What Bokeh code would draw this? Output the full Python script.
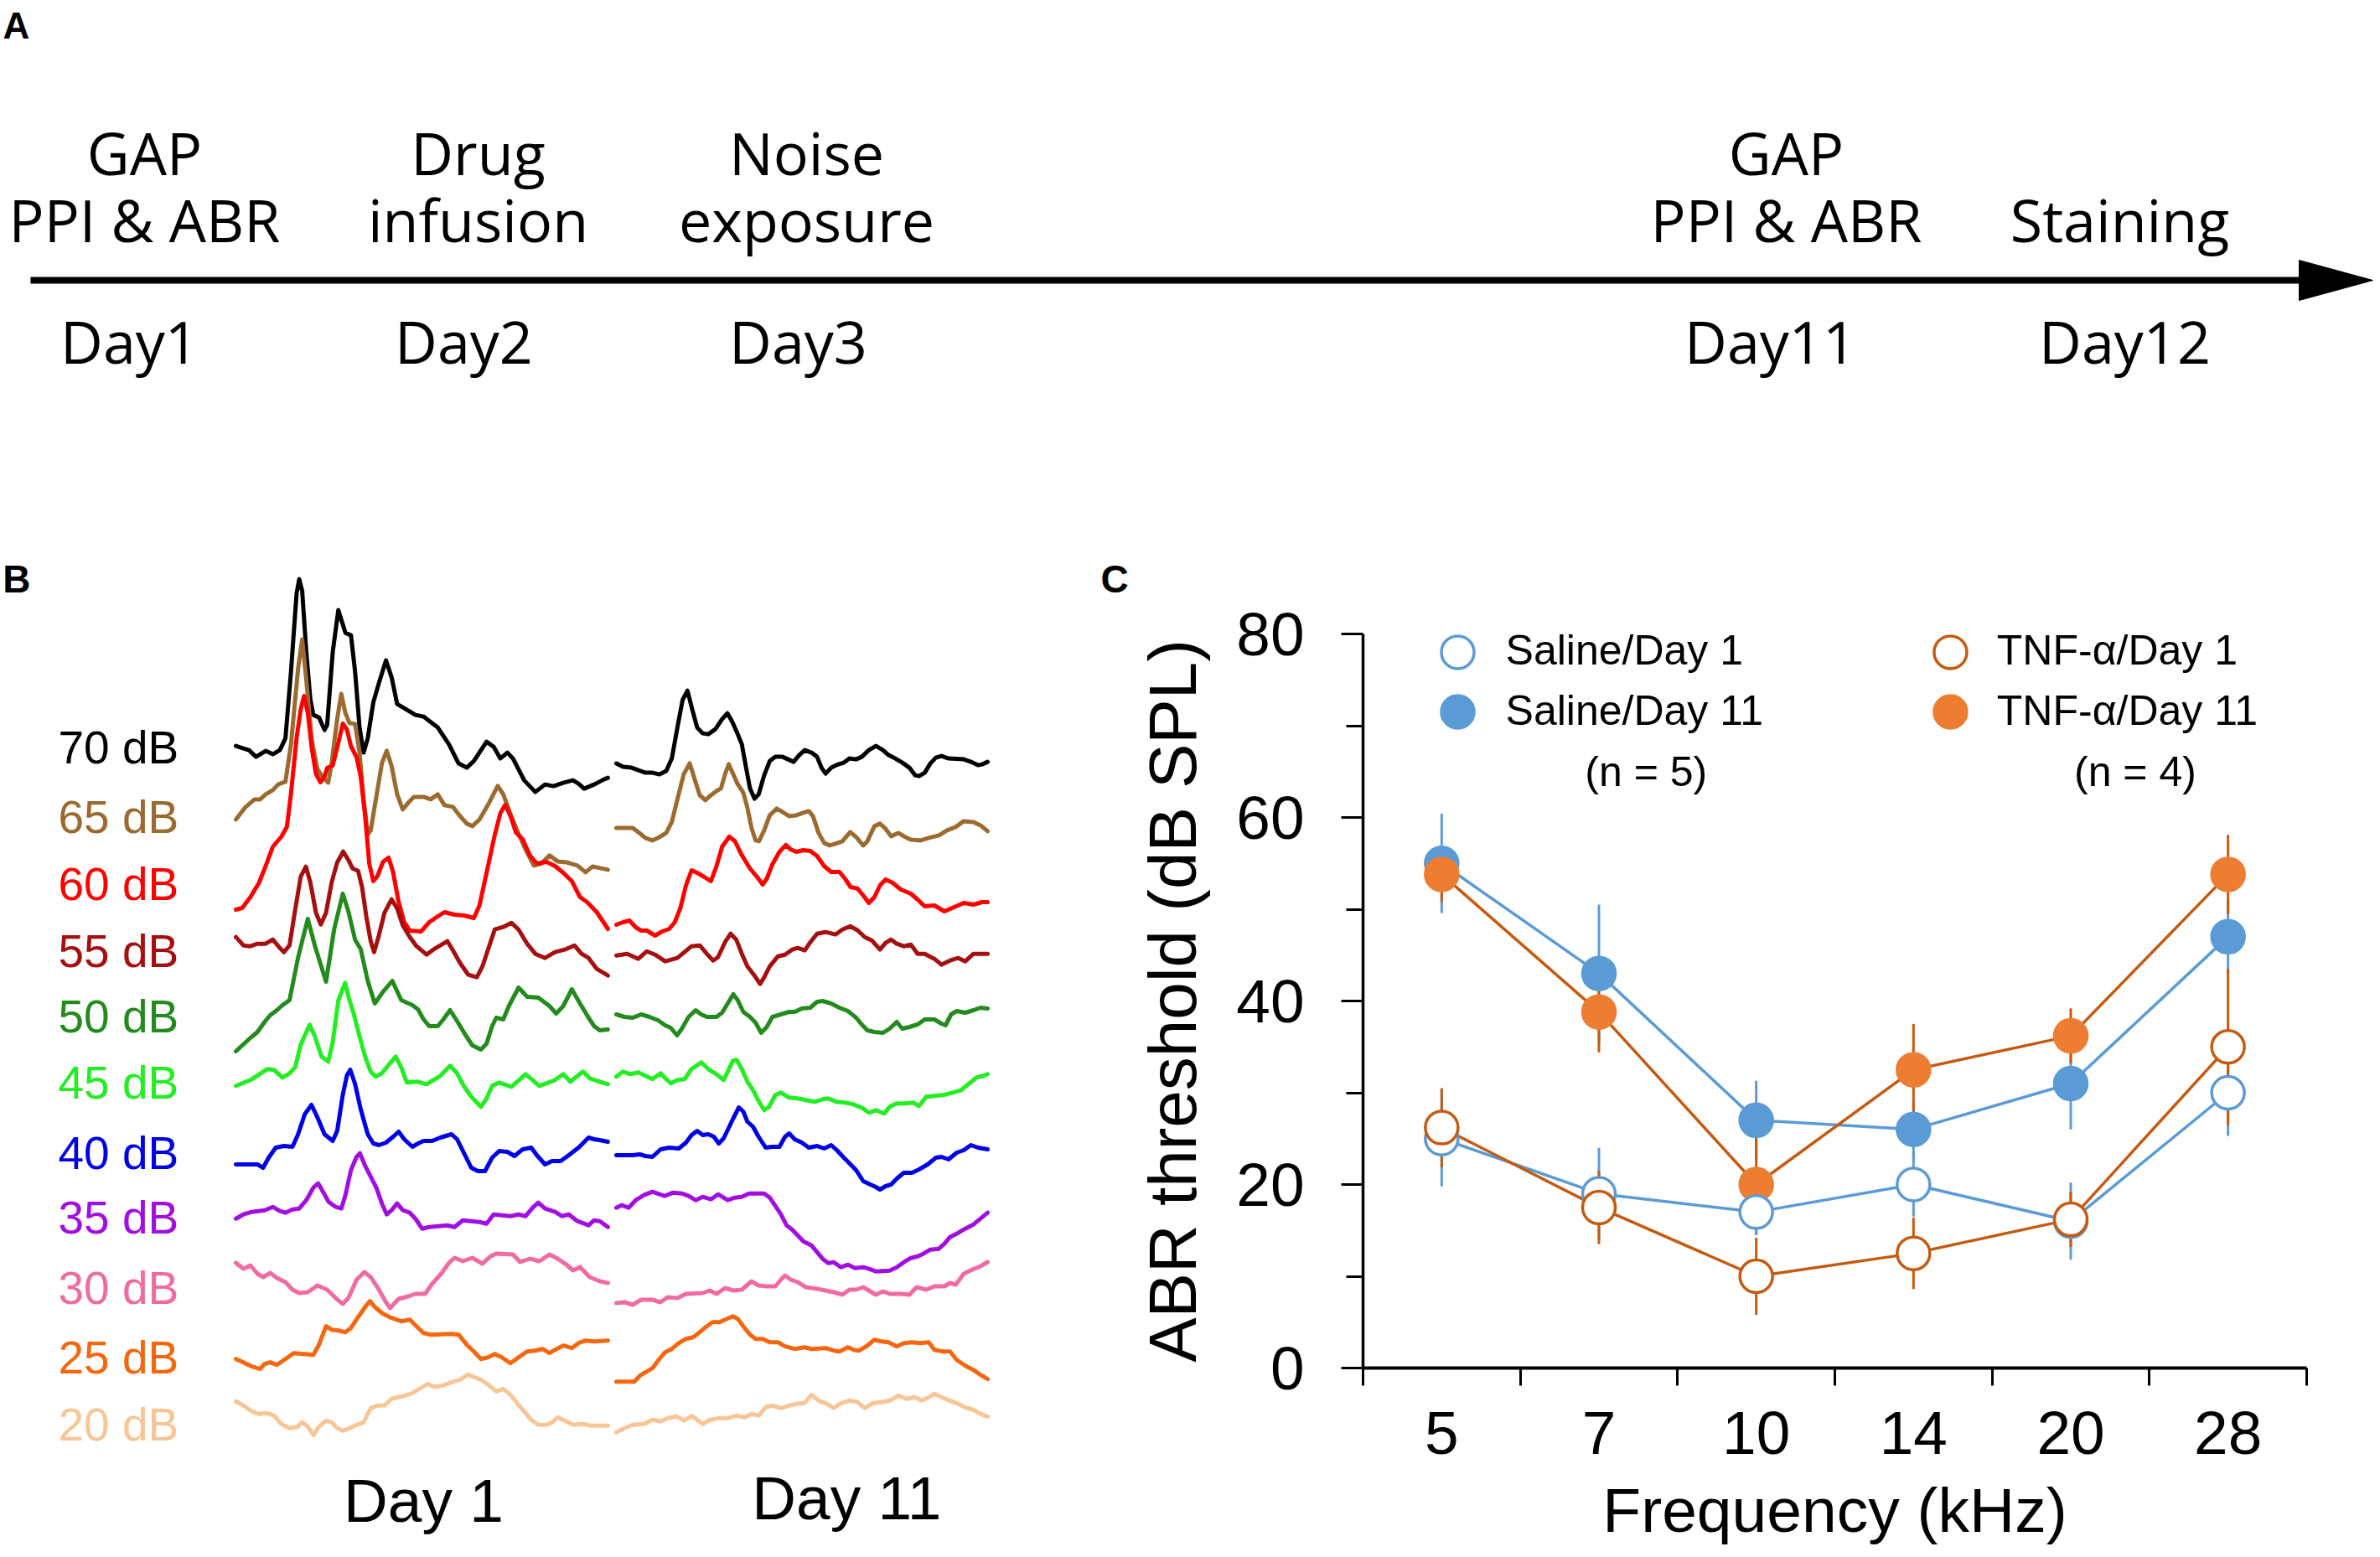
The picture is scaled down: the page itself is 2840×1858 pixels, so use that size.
from bokeh.plotting import figure
from bokeh.layouts import column, row
from bokeh.models import Range1d, FixedTicker
from bokeh.core.properties import value
from bokeh.embed import file_html
from bokeh.resources import INLINE

# ---------------- Panel A : experimental timeline ----------------
EVENT_LINE1 = ["GAP", "Drug", "Noise", "GAP", ""]
EVENT_LINE2 = ["PPI & ABR", "infusion", "exposure", "PPI & ABR", "Staining"]
EVENT_DAYS = ["Day1", "Day2", "Day3", "Day11", "Day12"]
EVENT_X = [172, 570, 962, 2131, 2529]      # layout positions of the event columns
DAY_X = [154, 553, 952, 2112, 2535]

# ---------------- Panel B : ABR waveforms (t in ms, amplitude in uV) ----------------
LEVELS = ["70 dB", "65 dB", "60 dB", "55 dB", "50 dB", "45 dB",
          "40 dB", "35 dB", "30 dB", "25 dB", "20 dB"]
LEVEL_COLORS = ["#000000", "#9B6A2F", "#FF0000", "#A50F0F", "#238B1E", "#22EE22",
                "#0000E6", "#A00FE0", "#F06BA3", "#F5670F", "#F8C597"]
STACK_POS = [0.0, -0.83, -1.63, -2.43, -3.21, -4.00, -4.84, -5.61, -6.45, -7.28, -8.08]
TRACE_BASE = [-0.076, -0.934, -1.76, -2.587, -3.21, -4.033, -4.90, -5.697, -6.565, -7.422, -8.248]
DAY11_START_MS = 10.215

D1_70 = [(0.0,0.09),(0.20,0.06),(0.35,0.04),(0.54,-0.04),(0.80,0.03),(0.99,-0.01),(1.18,0.04),(1.33,0.18),
         (1.48,0.98),(1.63,1.91),(1.70,2.08),(1.78,1.94),(1.89,1.21),(2.00,0.64),(2.08,0.46),(2.23,0.43),
         (2.38,0.28),(2.45,0.34),(2.60,1.21),(2.75,1.71),(2.87,1.54),(2.94,1.44),(3.09,1.41),(3.20,0.98),
         (3.32,0.31),(3.43,0.01),(3.54,0.18),(3.69,0.61),(3.84,0.84),(4.03,1.11),(4.18,0.91),(4.33,0.59),
         (4.52,0.54),(4.82,0.46),(5.04,0.44),(5.42,0.31),(5.72,0.11),(5.98,-0.12),(6.20,-0.17),(6.39,-0.09),
         (6.73,0.14),(6.92,0.08),(7.10,-0.06),(7.29,0.01),(7.44,-0.06),(7.74,-0.32),(8.04,-0.46),(8.30,-0.37),
         (8.53,-0.39),(8.79,-0.35),(9.05,-0.32),(9.20,-0.36),(9.35,-0.42),(9.62,-0.37),(9.88,-0.31),(9.99,-0.29)]
D1_65 = [(0.0,0.07),(0.24,0.21),(0.50,0.31),(0.65,0.31),(0.80,0.37),(0.99,0.42),(1.14,0.49),(1.33,0.52),
         (1.48,0.97),(1.67,1.87),(1.78,2.22),(1.89,1.74),(2.04,1.01),(2.19,0.67),(2.34,0.57),(2.48,0.51),
         (2.57,0.74),(2.72,1.27),(2.83,1.57),(2.94,1.34),(3.05,1.22),(3.20,1.21),(3.32,0.87),(3.43,0.31),
         (3.54,-0.11),(3.62,-0.06),(3.77,0.34),(3.92,0.74),(4.05,0.89),(4.18,0.71),(4.33,0.37),(4.48,0.19),
         (4.63,0.27),(4.78,0.34),(5.04,0.34),(5.23,0.31),(5.42,0.37),(5.60,0.24),(5.83,0.22),(6.02,0.11),
         (6.20,0.02),(6.35,-0.01),(6.54,0.07),(6.80,0.27),(7.03,0.47),(7.18,0.37),(7.37,0.14),(7.55,-0.06),
         (7.78,-0.29),(8.00,-0.48),(8.19,-0.46),(8.42,-0.36),(8.64,-0.43),(8.87,-0.44),(9.17,-0.48),
         (9.39,-0.56),(9.58,-0.49),(9.77,-0.51),(9.99,-0.53)]
D1_60 = [(0.0,-0.18),(0.17,-0.16),(0.39,-0.03),(0.62,0.14),(0.80,0.34),(0.99,0.57),(1.22,0.69),(1.37,0.81),
         (1.48,1.21),(1.63,1.87),(1.74,2.21),(1.83,2.37),(1.93,2.17),(2.04,1.74),(2.15,1.44),(2.27,1.34),
         (2.38,1.41),(2.45,1.51),(2.60,1.54),(2.75,1.81),(2.87,2.04),(2.98,1.97),(3.09,1.77),(3.24,1.64),
         (3.35,1.41),(3.47,0.94),(3.58,0.37),(3.69,0.16),(3.80,0.22),(3.95,0.39),(4.10,0.44),(4.22,0.27),
         (4.37,-0.09),(4.52,-0.33),(4.67,-0.43),(4.97,-0.44),(5.19,-0.33),(5.42,-0.26),(5.60,-0.21),
         (5.87,-0.24),(6.13,-0.25),(6.39,-0.28),(6.54,-0.13),(6.77,0.34),(6.95,0.71),(7.10,0.97),(7.23,1.07),
         (7.37,0.94),(7.52,0.74),(7.70,0.66),(7.89,0.47),(8.08,0.37),(8.34,0.39),(8.57,0.34),(8.79,0.26),
         (9.02,0.16),(9.24,-0.03),(9.43,-0.09),(9.69,-0.21),(9.84,-0.31),(9.99,-0.41)]
D1_55 = [(0.0,0.32),(0.20,0.22),(0.39,0.21),(0.58,0.24),(0.80,0.24),(0.99,0.29),(1.14,0.21),(1.29,0.14),
         (1.44,0.22),(1.59,0.64),(1.74,1.04),(1.88,1.16),(2.00,0.97),(2.15,0.61),(2.28,0.47),(2.42,0.61),
         (2.57,0.97),(2.72,1.21),(2.88,1.34),(3.02,1.24),(3.13,1.14),(3.28,1.11),(3.39,0.91),(3.50,0.57),
         (3.62,0.27),(3.71,0.14),(3.84,0.34),(3.99,0.61),(4.18,0.77),(4.33,0.66),(4.48,0.46),(4.67,0.32),
         (4.85,0.21),(5.12,0.11),(5.30,0.17),(5.49,0.22),(5.68,0.27),(5.83,0.16),(6.02,0.01),(6.24,-0.13),
         (6.47,-0.16),(6.62,-0.03),(6.77,0.17),(6.95,0.41),(7.18,0.44),(7.40,0.49),(7.59,0.41),(7.82,0.24),
         (8.04,0.12),(8.30,0.07),(8.57,0.14),(8.83,0.17),(9.09,0.22),(9.28,0.12),(9.47,0.07),(9.69,-0.06),
         (9.99,-0.14)]
D1_50 = [(0.0,-0.42),(0.17,-0.35),(0.39,-0.26),(0.58,-0.19),(0.77,-0.07),(0.92,0.01),(1.10,0.07),(1.25,0.13),
         (1.44,0.19),(1.67,0.70),(1.93,1.16),(2.12,0.84),(2.42,0.41),(2.64,1.04),(2.87,1.46),(3.02,1.25),
         (3.20,0.91),(3.35,0.80),(3.54,0.42),(3.73,0.15),(3.95,0.29),(4.20,0.42),(4.44,0.19),(4.74,0.13),
         (4.89,0.08),(5.04,-0.04),(5.19,-0.12),(5.42,-0.12),(5.57,-0.04),(5.75,0.07),(5.94,-0.06),(6.17,-0.23),
         (6.35,-0.35),(6.58,-0.40),(6.73,-0.33),(6.88,-0.12),(6.99,-0.02),(7.18,-0.04),(7.33,0.12),(7.59,0.34),
         (7.82,0.23),(8.12,0.22),(8.42,0.12),(8.60,0.03),(8.79,0.12),(9.02,0.32),(9.24,0.15),(9.47,-0.02),
         (9.62,-0.12),(9.77,-0.17),(9.99,-0.16)]
D1_45 = [(0.0,-0.01),(0.39,0.06),(0.84,0.19),(1.03,0.18),(1.25,0.09),(1.44,0.14),(1.59,0.21),(1.74,0.48),
         (1.98,0.72),(2.12,0.58),(2.30,0.34),(2.48,0.28),(2.60,0.51),(2.75,1.01),(2.93,1.22),(3.05,1.01),
         (3.17,0.84),(3.32,0.58),(3.47,0.34),(3.62,0.16),(3.75,0.10),(3.92,0.14),(4.10,0.24),(4.29,0.34),
         (4.44,0.21),(4.59,0.03),(4.89,0.04),(5.12,0.01),(5.49,0.11),(5.75,0.23),(5.94,0.14),(6.13,-0.02),
         (6.32,-0.14),(6.58,-0.26),(6.73,-0.16),(6.88,-0.01),(7.07,0.03),(7.40,-0.02),(7.78,0.13),(8.15,-0.01),
         (8.57,0.06),(8.79,0.13),(8.98,0.04),(9.32,0.16),(9.50,0.08),(9.77,0.04),(9.99,0.01)]
D1_40 = [(0.0,-0.08),(0.58,-0.08),(0.73,-0.12),(0.88,0.0),(1.07,0.12),(1.29,0.14),(1.52,0.13),(1.67,0.28),
         (1.85,0.52),(2.03,0.63),(2.19,0.48),(2.38,0.28),(2.60,0.20),(2.72,0.32),(2.87,0.75),(2.98,0.98),
         (3.07,1.05),(3.20,0.88),(3.35,0.58),(3.54,0.28),(3.69,0.17),(3.84,0.15),(4.03,0.18),(4.22,0.25),
         (4.37,0.31),(4.52,0.22),(4.74,0.13),(4.89,0.17),(5.04,0.20),(5.27,0.20),(5.49,0.24),(5.79,0.28),
         (5.94,0.22),(6.13,0.05),(6.32,-0.12),(6.50,-0.16),(6.69,-0.16),(6.88,0.0),(7.07,0.08),(7.29,0.07),
         (7.48,0.02),(7.70,0.10),(7.93,0.12),(8.08,0.03),(8.30,-0.08),(8.49,-0.04),(8.72,-0.04),(8.94,0.03),
         (9.20,0.12),(9.47,0.24),(9.62,0.22),(9.77,0.21),(9.99,0.19)]
D1_35 = [(0.0,0.07),(0.20,0.12),(0.43,0.15),(0.77,0.17),(0.99,0.21),(1.18,0.16),(1.33,0.14),(1.52,0.18),
         (1.70,0.19),(1.89,0.29),(2.08,0.44),(2.21,0.49),(2.34,0.39),(2.49,0.27),(2.68,0.21),(2.83,0.19),
         (2.94,0.35),(3.09,0.65),(3.23,0.80),(3.33,0.85),(3.47,0.70),(3.62,0.57),(3.77,0.44),(3.92,0.25),
         (4.05,0.12),(4.18,0.17),(4.33,0.25),(4.48,0.17),(4.67,0.14),(4.82,0.07),(5.00,-0.05),(5.19,-0.03),
         (5.68,-0.01),(5.87,-0.03),(6.09,0.05),(6.54,0.03),(6.73,0.01),(6.92,0.12),(7.37,0.10),(7.59,0.12),
         (7.78,0.10),(7.97,0.20),(8.12,0.26),(8.30,0.19),(8.57,0.15),(8.75,0.10),(8.94,0.12),(9.17,0.04),
         (9.47,-0.01),(9.62,0.05),(9.77,0.04),(9.99,-0.03)]
D1_30 = [(0.0,0.41),(0.20,0.34),(0.39,0.38),(0.58,0.28),(0.73,0.24),(0.92,0.29),(1.10,0.23),(1.33,0.18),
         (1.52,0.09),(1.70,0.05),(1.93,0.06),(2.19,0.14),(2.45,0.09),(2.68,-0.01),(2.87,-0.08),(3.02,-0.01),
         (3.24,0.21),(3.45,0.30),(3.62,0.24),(3.84,0.09),(4.03,-0.06),(4.14,-0.13),(4.22,-0.09),(4.37,-0.02),
         (4.63,0.01),(4.82,0.04),(5.08,0.04),(5.27,0.16),(5.53,0.29),(5.72,0.41),(5.87,0.47),(6.09,0.43),
         (6.35,0.47),(6.62,0.40),(6.84,0.49),(6.99,0.52),(7.44,0.51),(7.63,0.42),(7.89,0.46),(8.15,0.43),
         (8.42,0.51),(8.64,0.46),(8.87,0.39),(9.05,0.32),(9.24,0.36),(9.50,0.24),(9.77,0.19),(9.99,0.17)]
D1_25 = [(0.0,0.12),(0.20,0.08),(0.43,0.03),(0.65,0.0),(0.77,0.06),(0.92,0.08),(1.10,0.05),(1.33,0.12),
         (1.55,0.19),(1.82,0.18),(2.08,0.17),(2.23,0.29),(2.42,0.51),(2.57,0.47),(2.75,0.46),(2.94,0.44),
         (3.09,0.49),(3.28,0.62),(3.47,0.74),(3.60,0.81),(3.73,0.74),(3.95,0.66),(4.18,0.61),(4.44,0.57),
         (4.67,0.59),(4.85,0.51),(5.04,0.43),(5.23,0.41),(5.79,0.42),(5.98,0.41),(6.20,0.29),(6.39,0.21),
         (6.58,0.12),(6.77,0.14),(6.95,0.18),(7.14,0.14),(7.37,0.07),(7.59,0.14),(7.82,0.21),(8.04,0.22),
         (8.23,0.24),(8.42,0.19),(8.57,0.23),(8.79,0.28),(9.02,0.25),(9.20,0.31),(9.39,0.34),(9.62,0.33),
         (9.99,0.34)]
D1_20 = [(0.0,0.44),(0.20,0.39),(0.43,0.32),(0.62,0.29),(0.84,0.30),(1.03,0.27),(1.22,0.17),(1.44,0.12),
         (1.63,0.13),(1.78,0.19),(1.93,0.14),(2.08,0.04),(2.23,0.14),(2.42,0.21),(2.57,0.19),(2.72,0.12),
         (2.87,0.09),(3.05,0.12),(3.24,0.16),(3.43,0.19),(3.62,0.36),(3.80,0.39),(3.99,0.39),(4.18,0.47),
         (4.37,0.49),(4.55,0.51),(4.74,0.54),(4.93,0.59),(5.15,0.65),(5.34,0.61),(5.57,0.63),(5.79,0.67),
         (6.02,0.70),(6.23,0.76),(6.39,0.73),(6.58,0.70),(6.77,0.64),(6.99,0.56),(7.18,0.59),(7.37,0.52),
         (7.55,0.42),(7.74,0.32),(7.93,0.22),(8.12,0.16),(8.34,0.16),(8.49,0.19),(8.64,0.25),(8.83,0.21),
         (9.05,0.16),(9.32,0.17),(9.54,0.15),(9.99,0.15)]

D11_70 = [(0.0,-0.12),(0.18,-0.16),(0.41,-0.17),(0.59,-0.20),(0.78,-0.23),(0.97,-0.23),(1.16,-0.25),(1.34,-0.21),
          (1.49,-0.06),(1.64,0.31),(1.78,0.64),(1.91,0.75),(2.03,0.54),(2.17,0.31),(2.32,0.24),(2.47,0.23),
          (2.66,0.29),(2.84,0.41),(2.98,0.48),(3.11,0.38),(3.26,0.23),(3.37,0.11),(3.48,-0.16),(3.59,-0.42),
          (3.71,-0.54),(3.82,-0.49),(3.97,-0.26),(4.12,-0.09),(4.27,-0.04),(4.46,-0.04),(4.61,-0.07),(4.76,-0.10),
          (4.91,-0.02),(5.06,0.04),(5.24,0.01),(5.39,-0.04),(5.51,-0.17),(5.62,-0.24),(5.77,-0.17),(5.96,-0.13),
          (6.11,-0.11),(6.26,-0.06),(6.44,-0.07),(6.59,-0.04),(6.78,0.04),(6.97,0.09),(7.16,0.04),(7.31,-0.02),
          (7.49,-0.06),(7.68,-0.11),(7.87,-0.17),(8.02,-0.26),(8.13,-0.27),(8.28,-0.23),(8.43,-0.12),(8.58,-0.05),
          (8.73,-0.03),(8.92,-0.06),(9.33,-0.07),(9.52,-0.10),(9.71,-0.14),(9.82,-0.13),(9.97,-0.10)]
D11_65 = [(0.0,-0.03),(0.22,-0.03),(0.44,-0.03),(0.59,-0.08),(0.78,-0.15),(0.97,-0.18),(1.16,-0.14),(1.34,-0.09),
          (1.49,0.04),(1.64,0.31),(1.81,0.61),(1.97,0.74),(2.09,0.57),(2.24,0.36),(2.39,0.30),(2.54,0.36),
          (2.69,0.41),(2.81,0.44),(2.92,0.61),(3.02,0.73),(3.14,0.61),(3.26,0.49),(3.41,0.39),(3.52,0.21),
          (3.63,-0.03),(3.74,-0.18),(3.83,-0.19),(3.97,-0.06),(4.12,0.12),(4.31,0.20),(4.46,0.16),(4.64,0.11),
          (4.83,0.12),(5.02,0.15),(5.17,0.17),(5.28,0.11),(5.43,-0.09),(5.58,-0.21),(5.73,-0.24),(5.88,-0.22),
          (6.07,-0.19),(6.28,-0.08),(6.44,-0.14),(6.63,-0.24),(6.74,-0.19),(6.93,-0.01),(7.08,0.02),(7.23,-0.04),
          (7.38,-0.13),(7.57,-0.09),(7.72,-0.13),(7.91,-0.17),(8.17,-0.18),(8.39,-0.15),(8.66,-0.12),(8.88,-0.06),
          (9.11,-0.02),(9.33,0.05),(9.59,0.04),(9.78,0.0),(9.97,-0.07)]
D11_60 = [(0.0,-0.36),(0.18,-0.33),(0.35,-0.31),(0.52,-0.39),(0.67,-0.43),(0.82,-0.43),(1.04,-0.49),(1.23,-0.44),
          (1.42,-0.41),(1.57,-0.33),(1.72,-0.16),(1.87,0.11),(2.02,0.29),(2.17,0.26),(2.36,0.21),(2.54,0.16),
          (2.69,0.34),(2.84,0.57),(3.03,0.69),(3.18,0.64),(3.37,0.47),(3.59,0.31),(3.78,0.21),(3.93,0.12),
          (4.04,0.19),(4.19,0.36),(4.38,0.51),(4.55,0.59),(4.68,0.54),(4.83,0.51),(5.02,0.53),(5.21,0.52),
          (5.39,0.46),(5.58,0.34),(5.77,0.27),(5.99,0.27),(6.14,0.19),(6.29,0.09),(6.48,0.07),(6.63,-0.01),
          (6.78,-0.10),(6.93,-0.03),(7.08,0.11),(7.23,0.18),(7.42,0.14),(7.64,0.06),(7.91,0.01),(8.09,-0.06),
          (8.28,-0.14),(8.54,-0.13),(8.81,-0.20),(9.07,-0.15),(9.33,-0.10),(9.59,-0.12),(9.82,-0.09),(9.97,-0.09)]
D11_55 = [(0.0,0.10),(0.29,0.12),(0.59,0.06),(0.82,0.15),(1.04,0.11),(1.31,0.03),(1.64,0.07),(1.83,0.14),
          (2.02,0.21),(2.24,0.22),(2.43,0.12),(2.60,0.04),(2.73,0.08),(2.92,0.26),(3.07,0.36),(3.22,0.29),
          (3.37,0.12),(3.52,-0.03),(3.71,-0.14),(3.86,-0.24),(3.97,-0.16),(4.12,-0.03),(4.34,0.09),(4.53,0.11),
          (4.72,0.17),(4.87,0.19),(5.06,0.16),(5.21,0.26),(5.39,0.36),(5.62,0.38),(5.88,0.35),(6.07,0.41),
          (6.28,0.45),(6.48,0.40),(6.67,0.32),(6.86,0.28),(7.08,0.17),(7.23,0.25),(7.38,0.29),(7.53,0.24),
          (7.72,0.21),(7.91,0.23),(8.09,0.12),(8.28,0.12),(8.54,0.06),(8.73,-0.01),(8.96,0.04),(9.18,0.07),
          (9.37,0.03),(9.59,0.12),(9.97,0.12)]
D11_50 = [(0.0,0.02),(0.22,-0.01),(0.44,-0.02),(0.67,0.02),(0.89,-0.01),(1.12,-0.05),(1.31,-0.11),(1.46,-0.14),
          (1.63,-0.23),(1.76,-0.15),(1.94,-0.01),(2.13,0.07),(2.28,0.02),(2.43,-0.01),(2.69,-0.01),(2.84,0.04),
          (2.99,0.15),(3.14,0.26),(3.26,0.19),(3.41,0.05),(3.59,-0.01),(3.74,-0.08),(3.89,-0.20),(4.04,-0.13),
          (4.19,-0.01),(4.34,0.01),(4.64,0.05),(4.79,0.05),(4.98,0.09),(5.21,0.10),(5.39,0.17),(5.54,0.18),
          (5.77,0.15),(5.99,0.10),(6.22,0.06),(6.44,-0.02),(6.59,-0.10),(6.74,-0.17),(6.93,-0.19),(7.16,-0.20),
          (7.34,-0.15),(7.53,-0.07),(7.68,-0.15),(7.87,-0.13),(8.09,-0.10),(8.28,-0.04),(8.54,-0.04),(8.73,-0.09),
          (8.84,-0.11),(8.99,0.02),(9.14,0.06),(9.37,0.04),(9.59,0.07),(9.78,0.10),(9.97,0.09)]
D11_45 = [(0.0,0.10),(0.18,0.16),(0.37,0.13),(0.59,0.15),(0.78,0.11),(0.97,0.07),(1.19,0.14),(1.34,0.07),
          (1.46,0.02),(1.64,0.06),(1.83,0.07),(2.02,0.19),(2.28,0.27),(2.47,0.19),(2.69,0.13),(2.88,0.06),
          (2.99,0.16),(3.13,0.29),(3.23,0.30),(3.37,0.19),(3.52,0.04),(3.67,-0.06),(3.82,-0.19),(3.97,-0.30),
          (4.10,-0.26),(4.27,-0.12),(4.42,-0.09),(4.64,-0.15),(4.87,-0.16),(5.09,-0.18),(5.32,-0.20),(5.54,-0.17),
          (5.69,-0.16),(5.92,-0.20),(6.14,-0.21),(6.36,-0.23),(6.59,-0.27),(6.78,-0.33),(6.97,-0.30),(7.19,-0.34),
          (7.34,-0.26),(7.53,-0.22),(7.76,-0.22),(7.98,-0.21),(8.13,-0.25),(8.32,-0.14),(8.54,-0.13),(8.77,-0.12),
          (9.03,-0.09),(9.26,-0.06),(9.48,0.02),(9.67,0.09),(9.86,0.11),(9.97,0.13)]
D11_40 = [(0.0,0.03),(0.44,0.03),(0.63,0.04),(0.78,0.02),(0.97,0.01),(1.19,0.10),(1.42,0.12),(1.68,0.11),
          (1.87,0.18),(2.02,0.27),(2.17,0.32),(2.32,0.27),(2.47,0.28),(2.62,0.25),(2.75,0.17),(2.88,0.23),
          (2.99,0.33),(3.14,0.47),(3.29,0.60),(3.41,0.55),(3.52,0.43),(3.67,0.37),(3.82,0.25),(4.01,0.12),
          (4.19,0.13),(4.38,0.13),(4.53,0.25),(4.64,0.29),(4.79,0.22),(4.98,0.18),(5.17,0.12),(5.39,0.14),
          (5.58,0.11),(5.77,0.15),(5.92,0.09),(6.11,0.0),(6.29,-0.08),(6.44,-0.15),(6.63,-0.28),(6.82,-0.32),
          (6.97,-0.35),(7.08,-0.38),(7.23,-0.34),(7.38,-0.32),(7.53,-0.25),(7.72,-0.18),(7.94,-0.18),(8.13,-0.14),
          (8.36,-0.08),(8.58,0.0),(8.73,0.01),(8.92,-0.02),(9.14,0.06),(9.33,0.09),(9.52,0.15),(9.71,0.12),
          (9.97,0.10)]
D11_35 = [(0.0,0.20),(0.14,0.23),(0.33,0.20),(0.52,0.29),(0.74,0.35),(0.97,0.39),(1.16,0.36),(1.30,0.34),
          (1.53,0.38),(1.76,0.37),(1.94,0.34),(2.13,0.29),(2.32,0.33),(2.54,0.30),(2.73,0.36),(2.88,0.32),
          (2.99,0.29),(3.18,0.32),(3.37,0.33),(3.56,0.37),(3.97,0.37),(4.12,0.32),(4.27,0.22),(4.42,0.12),
          (4.57,-0.01),(4.72,-0.06),(4.87,-0.13),(5.02,-0.20),(5.24,-0.25),(5.39,-0.33),(5.54,-0.41),(5.69,-0.46),
          (5.84,-0.45),(6.03,-0.51),(6.22,-0.48),(6.41,-0.52),(6.63,-0.51),(6.78,-0.53),(6.97,-0.56),(7.34,-0.55),
          (7.53,-0.51),(7.72,-0.45),(7.91,-0.40),(8.09,-0.38),(8.24,-0.35),(8.43,-0.30),(8.66,-0.29),(8.81,-0.23),
          (8.96,-0.15),(9.18,-0.10),(9.37,-0.05),(9.59,0.0),(9.78,0.07),(9.97,0.14)]
D11_30 = [(0.0,-0.07),(0.22,-0.06),(0.44,-0.09),(0.67,-0.03),(0.97,-0.03),(1.18,-0.06),(1.38,0.0),(1.64,-0.01),
          (1.87,0.04),(2.32,0.05),(2.51,0.08),(2.69,0.04),(2.92,0.11),(3.14,0.08),(3.37,0.09),(3.63,0.19),
          (3.82,0.14),(4.04,0.13),(4.27,0.13),(4.42,0.21),(4.53,0.26),(4.68,0.21),(4.87,0.18),(5.09,0.12),
          (5.39,0.10),(5.62,0.08),(5.84,0.06),(6.07,0.03),(6.26,0.09),(6.44,0.09),(6.63,0.12),(6.78,0.08),
          (6.97,0.03),(7.16,0.07),(7.34,0.04),(7.64,0.04),(7.87,0.03),(8.06,0.12),(8.32,0.09),(8.54,0.13),
          (8.81,0.13),(8.96,0.17),(9.11,0.15),(9.33,0.28),(9.56,0.33),(9.78,0.37),(9.97,0.42)]
D11_25 = [(0.0,-0.15),(0.48,-0.15),(0.63,-0.08),(0.78,-0.04),(0.97,0.01),(1.12,0.10),(1.31,0.20),(1.49,0.24),
          (1.68,0.31),(1.87,0.36),(2.06,0.38),(2.24,0.44),(2.43,0.51),(2.58,0.56),(2.77,0.56),(2.92,0.59),
          (3.13,0.63),(3.26,0.60),(3.41,0.51),(3.59,0.41),(3.74,0.36),(3.93,0.36),(4.12,0.32),(4.34,0.32),
          (4.53,0.27),(4.79,0.24),(5.06,0.26),(5.24,0.24),(5.62,0.25),(5.84,0.22),(5.99,0.21),(6.22,0.26),
          (6.37,0.23),(6.52,0.22),(6.71,0.27),(6.93,0.35),(7.12,0.33),(7.31,0.32),(7.53,0.27),(7.72,0.31),
          (7.94,0.32),(8.17,0.31),(8.39,0.32),(8.54,0.23),(8.77,0.21),(8.96,0.21),(9.14,0.11),(9.37,0.04),
          (9.59,-0.01),(9.78,-0.07),(9.97,-0.12)]
D11_20 = [(0.0,0.07),(0.22,0.12),(0.44,0.16),(0.74,0.17),(0.97,0.22),(1.19,0.20),(1.38,0.24),(1.61,0.26),
          (1.83,0.21),(2.02,0.27),(2.17,0.22),(2.32,0.17),(2.51,0.22),(2.77,0.24),(2.99,0.24),(3.22,0.27),
          (3.44,0.25),(3.63,0.29),(3.82,0.27),(4.01,0.37),(4.19,0.39),(4.42,0.36),(4.64,0.39),(4.83,0.41),
          (5.06,0.42),(5.24,0.52),(5.43,0.45),(5.66,0.41),(5.84,0.36),(6.03,0.42),(6.26,0.45),(6.48,0.43),
          (6.67,0.36),(6.89,0.42),(7.12,0.43),(7.34,0.45),(7.57,0.51),(7.79,0.47),(8.02,0.49),(8.21,0.45),
          (8.39,0.49),(8.54,0.53),(8.73,0.49),(8.96,0.45),(9.18,0.41),(9.41,0.36),(9.59,0.34),(9.78,0.29),
          (9.97,0.26)]

DAY1_TRACES = [D1_70, D1_65, D1_60, D1_55, D1_50, D1_45, D1_40, D1_35, D1_30, D1_25, D1_20]
DAY11_TRACES = [D11_70, D11_65, D11_60, D11_55, D11_50, D11_45, D11_40, D11_35, D11_30, D11_25, D11_20]

# ---------------- Panel C : ABR thresholds (dB SPL), mean and SEM ----------------
FREQS = ["5", "7", "10", "14", "20", "28"]
SALINE_D1 = [25, 19, 17, 20, 16, 30]
SALINE_D1_ERR = [5.2, 5.0, 2.5, 3.5, 4.2, 4.7]
SALINE_D11 = [55, 43, 27, 26, 31, 47]
SALINE_D11_ERR = [5.4, 7.5, 4.3, 3.0, 5.0, 4.0]
TNF_D1 = [26.2, 17.5, 10, 12.5, 16.2, 35]
TNF_D1_ERR = [4.3, 4.0, 4.2, 3.9, 3.0, 8.5]
TNF_D11 = [53.8, 38.8, 20, 32.5, 36.2, 53.8]
TNF_D11_ERR = [3.0, 4.4, 5.5, 5.0, 3.0, 4.3]

BLUE = "#5B9BD5"
ORANGE_FILL = "#ED7D31"
ORANGE_LINE = "#C55A11"

ARIAL_NAME = "Liberation Sans"
ARIAL = value(ARIAL_NAME)
CALIBRI = value("Open Sans")


def bare(p):
    p.outline_line_color = None
    p.grid.visible = False
    p.frame_align = False
    return p


# ================= Panel A figure =================
pA = bare(figure(width=2832, height=640, x_range=Range1d(0, 2832), y_range=Range1d(640, 0),
                 toolbar_location=None, output_backend="svg", min_border=0,
                 x_axis_type=None, y_axis_type=None))
pA.line([36, 2748], [334, 334], line_width=8, color="black")
pA.patch([2743, 2831, 2743], [310, 334, 358], color="black")
for txt, yc in ((EVENT_LINE1, 181), (EVENT_LINE2, 261)):
    pA.text(x=EVENT_X, y=[yc] * 5, text=txt, text_font=CALIBRI, text_font_size="70px",
            text_align="center", text_baseline="middle", text_color="black")
pA.text(x=DAY_X, y=[406] * 5, text=EVENT_DAYS, text_font=CALIBRI, text_font_size="70px",
        text_align="center", text_baseline="middle", text_color="black")
pA.text(x=[3], y=[30], text=["A"], text_font=ARIAL, text_font_size="44px",
        text_font_style="bold", text_align="left", text_baseline="middle", text_color="black")

# ================= Panel B figure =================
pB = bare(figure(width=1348, height=1210, x_range=Range1d(-6.323, 24.01), y_range=Range1d(-9.59, 2.51),
                 toolbar_location=None, output_backend="svg", min_border=0,
                 x_axis_type=None, y_axis_type=None))
for k in range(len(LEVELS)):
    for traces, shift in ((DAY1_TRACES, 0.0), (DAY11_TRACES, DAY11_START_MS)):
        t, v = zip(*traces[k])
        pB.line([ti + shift for ti in t], [vi + TRACE_BASE[k] for vi in v],
                line_color=LEVEL_COLORS[k], line_width=5, line_join="round", line_cap="round")
pB.text(x=[-4.77] * len(LEVELS), y=STACK_POS, text=LEVELS,
        text_color=LEVEL_COLORS, text_font=ARIAL, text_font_size="55px",
        text_align="left", text_baseline="middle")
pB.text(x=[5.04, 16.40], y=[-8.99, -8.96], text=["Day 1", "Day 11"], text_font=ARIAL,
        text_font_size="73px", text_align="center", text_baseline="middle", text_color="black")
pB.text(x=[-6.26, 23.22], y=[2.01, 2.01], text=["B", "C"], text_font=ARIAL, text_font_size="46px",
        text_font_style="bold", text_align="left", text_baseline="middle", text_color="black")

# ================= Panel C figure =================
pC = bare(figure(width=1484, height=1210, x_range=Range1d(0, 6), y_range=Range1d(0, 80),
                 toolbar_location=None, output_backend="svg",
                 min_border_left=278, min_border_right=80, min_border_top=116, min_border_bottom=218))

xs = [i + 0.5 for i in range(len(FREQS))]

xa = pC.xaxis[0]
xa.ticker = FixedTicker(ticks=xs, minor_ticks=list(range(len(FREQS) + 1)))
xa.major_label_overrides = {x: f for x, f in zip(xs, FREQS)}
xa.major_tick_out = 21
xa.major_tick_in = 0
xa.major_tick_line_color = None
xa.minor_tick_out = 21
xa.minor_tick_in = 0
xa.minor_tick_line_width = 3
xa.minor_tick_line_color = "black"
xa.axis_line_width = 4
xa.axis_line_color = "black"
xa.major_label_text_font = ARIAL_NAME
xa.major_label_text_font_size = "73px"
xa.major_label_text_color = "black"
xa.major_label_standoff = 31
xa.axis_label = "Frequency (kHz)"
xa.axis_label_text_font = ARIAL_NAME
xa.axis_label_text_font_size = "75px"
xa.axis_label_text_font_style = "normal"
xa.axis_label_text_color = "black"
xa.axis_label_standoff = 22

ya = pC.yaxis[0]
ya.ticker = FixedTicker(ticks=[0, 20, 40, 60, 80], minor_ticks=[10, 30, 50, 70])
ya.major_tick_out = 26
ya.major_tick_in = 0
ya.minor_tick_out = 20
ya.minor_tick_in = 0
ya.major_tick_line_width = 3
ya.minor_tick_line_width = 3
ya.major_tick_line_color = "black"
ya.minor_tick_line_color = "black"
ya.axis_line_width = 3.5
ya.axis_line_color = "black"
ya.major_label_text_font = ARIAL_NAME
ya.major_label_text_font_size = "73px"
ya.major_label_text_color = "black"
ya.major_label_standoff = 44
ya.axis_label = "ABR threshold (dB SPL)"
ya.axis_label_text_font = ARIAL_NAME
ya.axis_label_text_font_size = "80px"
ya.axis_label_text_font_style = "normal"
ya.axis_label_text_color = "black"
ya.axis_label_standoff = 28

series = [
    (SALINE_D11, SALINE_D11_ERR, BLUE, BLUE, BLUE),
    (TNF_D11, TNF_D11_ERR, ORANGE_LINE, ORANGE_FILL, ORANGE_FILL),
    (SALINE_D1, SALINE_D1_ERR, BLUE, BLUE, "white"),
    (TNF_D1, TNF_D1_ERR, ORANGE_LINE, ORANGE_LINE, "white"),
]
for ys, err, lc, mc, fc in series:
    pC.segment(x0=xs, y0=[y - e for y, e in zip(ys, err)], x1=xs, y1=[y + e for y, e in zip(ys, err)],
               line_color=lc, line_width=3)
for ys, err, lc, mc, fc in series:
    pC.line(xs, ys, line_color=lc, line_width=3.5)
for ys, err, lc, mc, fc in series:
    pC.scatter(xs, ys, marker="circle", size=39, fill_color=fc, line_color=mc, line_width=3.5)

# legend (drawn as glyphs to match the original layout)
LEG_LABELS = ["Saline/Day 1", "Saline/Day 11", "TNF-\u03b1/Day 1", "TNF-\u03b1/Day 11"]
pC.scatter([0.602, 0.602, 3.735, 3.735], [78.0, 71.5, 78.0, 71.5], marker="circle", size=39,
           fill_color=["white", BLUE, "white", ORANGE_FILL],
           line_color=[BLUE, BLUE, ORANGE_LINE, ORANGE_FILL], line_width=3.5)
pC.text(x=[0.906, 0.906, 4.03, 4.03], y=[78.2, 71.6, 78.2, 71.6], text=LEG_LABELS,
        text_font=ARIAL, text_font_size="50px", text_align="left", text_baseline="middle",
        text_color="black")
pC.text(x=[1.80, 4.91], y=[65.0, 65.0], text=["(n = 5)", "(n = 4)"], text_font=ARIAL,
        text_font_size="50px", text_align="center", text_baseline="middle", text_color="black")

layout = column(pA, row(pB, pC, spacing=0), spacing=0)

with open("out.html", "w") as f:
    f.write(file_html(layout, INLINE))
